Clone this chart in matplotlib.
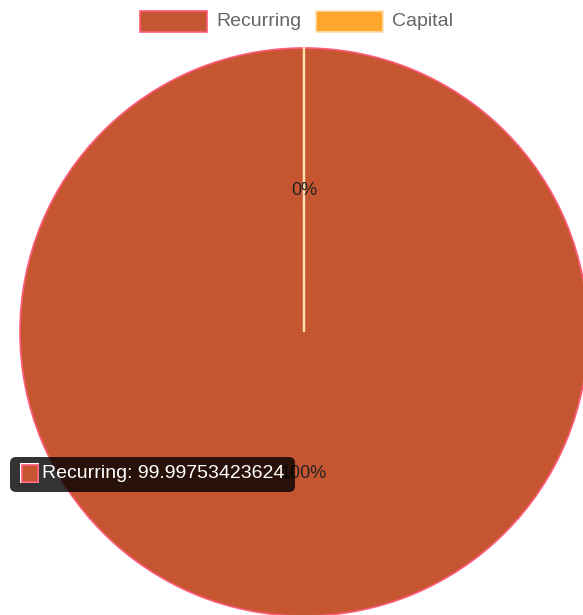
import numpy as np
import matplotlib.pyplot as plt
from matplotlib.patches import Rectangle, FancyBboxPatch

plt.rcParams['font.family'] = ['Liberation Sans', 'DejaVu Sans']

# data
labels = ['Recurring', 'Capital']
values = [99.99753423624, 0.00246576376]
colors = ['#C65631', '#FFA72C']
edges = ['#FF5A78', '#FFE0B0']

W, H = 583, 615
fig = plt.figure(figsize=(W / 100, H / 100), dpi=100)
ax = fig.add_axes([0, 0, 1, 1])

cx, cy, r = 304, H - 332, 284
wedges, texts, autotexts = ax.pie(
    values, colors=colors, startangle=90, counterclock=False,
    center=(cx, cy), radius=r, autopct='%.0f%%', pctdistance=0.5,
    textprops={'fontsize': 13, 'color': '#222222'}, frame=True,
)
wedges[0].set_edgecolor(edges[0])
wedges[0].set_linewidth(1.2)
wedges[1].set_edgecolor(edges[1])
wedges[1].set_linewidth(1.6)
wedges[1].set_zorder(wedges[0].get_zorder() + 0.5)
for t in autotexts:
    t.set_zorder(5)

ax.set_xlim(0, W)
ax.set_ylim(0, H)
ax.set_aspect('auto')
ax.axis('off')

# legend at top
lx = [140, 316]
for i, lab in enumerate(labels):
    ax.add_patch(Rectangle((lx[i], H - 32), 67, 21, facecolor=colors[i],
                           edgecolor=edges[i], lw=1.2, zorder=6, clip_on=False))
    ax.text(lx[i] + 76, H - 21, lab, fontsize=14, color='#666666',
            va='center', ha='left', zorder=6)

# tooltip
ax.add_patch(FancyBboxPatch((16, H - 486), 273, 23,
                            boxstyle='round,pad=6,rounding_size=6',
                            facecolor='black', alpha=0.8, lw=0, zorder=8))
ax.add_patch(Rectangle((20, H - 483), 19, 20, facecolor='white', lw=0, zorder=9))
ax.add_patch(Rectangle((21.5, H - 481.5), 16, 17, facecolor=colors[0],
                       edgecolor=edges[0], lw=1.2, zorder=10))
ax.text(42, H - 473, f'{labels[0]}: {values[0]}', fontsize=14, color='white',
        va='center', ha='left', zorder=10)

fig.savefig('out.png', dpi=100)
